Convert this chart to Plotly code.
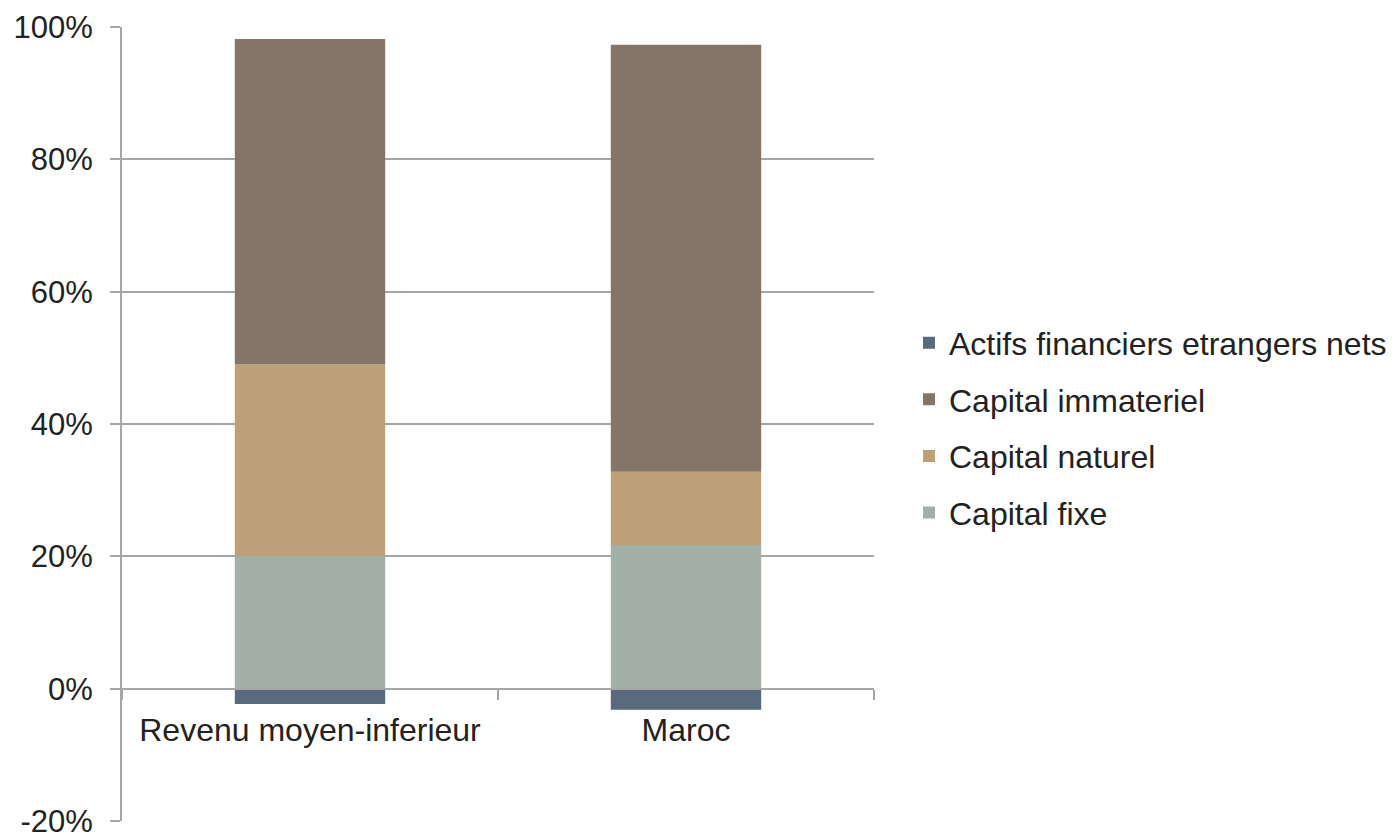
import plotly.graph_objects as go

categories = ["Revenu moyen-inferieur", "Maroc"]
capital_fixe = [20.0, 21.7]
capital_naturel = [29.0, 11.1]
capital_immateriel = [49.2, 64.5]
actifs_financiers = [-2.3, -3.2]
y_ticks = [-20, 0, 20, 40, 60, 80, 100]
y_tick_labels = [f"{v}%" for v in y_ticks]

series = [
    ("Capital fixe", capital_fixe, "#a3b0a7", 4),
    ("Capital naturel", capital_naturel, "#bda077", 3),
    ("Capital immateriel", capital_immateriel, "#857468", 2),
    ("Actifs financiers etrangers nets", actifs_financiers, "#5a6a7e", 1),
]

fig = go.Figure()
for name, vals, col, rank in series:
    fig.add_trace(go.Bar(
        x=categories, y=vals, name=name, legendgroup=name, legendrank=rank,
        marker=dict(color=col, line=dict(width=0)),
    ))

# The page body has an 8px default margin; compensate so the plot lands in place.
OFF = 8
L, R_EDGE, T, B_EDGE = 122 - OFF, 875 - OFF, 27 - OFF, 821 - OFF
W, H = 1395, 837

font = "Liberation Sans, Arial, sans-serif"
fig.update_layout(
    barmode="relative",
    bargap=0.6,
    width=W, height=H,
    margin=dict(l=L, r=W - R_EDGE, t=T, b=H - B_EDGE),
    plot_bgcolor="white", paper_bgcolor="white",
    font=dict(family=font, size=32, color="#222222"),
    showlegend=True,
    legend=dict(
        traceorder="grouped",
        x=(909 - 122) / 753, xanchor="left", y=0.495, yanchor="middle",
        font=dict(size=32, color="#222222"),
        tracegroupgap=12,
        itemwidth=30,
    ),
    xaxis=dict(
        anchor="free", position=132 / 794,
        automargin=False,
        showline=True, linecolor="#a6a6a6", linewidth=2,
        ticks="outside", ticklen=10, tickcolor="#a6a6a6", tickwidth=1.5,
        tickson="boundaries",
        showgrid=False,
        tickfont=dict(size=32, color="#222222"),
        ticklabelstandoff=13,
    ),
    yaxis=dict(
        range=[-20, 100],
        automargin=False,
        tickvals=y_ticks, ticktext=y_tick_labels,
        showgrid=True, gridcolor="#a6a6a6", gridwidth=1.5,
        showline=True, linecolor="#a6a6a6", linewidth=2,
        ticks="outside", ticklen=10, tickcolor="#a6a6a6", tickwidth=1.5,
        zeroline=False,
        tickfont=dict(size=31, color="#222222"),
        ticklabelstandoff=11,
    ),
)

fig.write_html("out.html")
